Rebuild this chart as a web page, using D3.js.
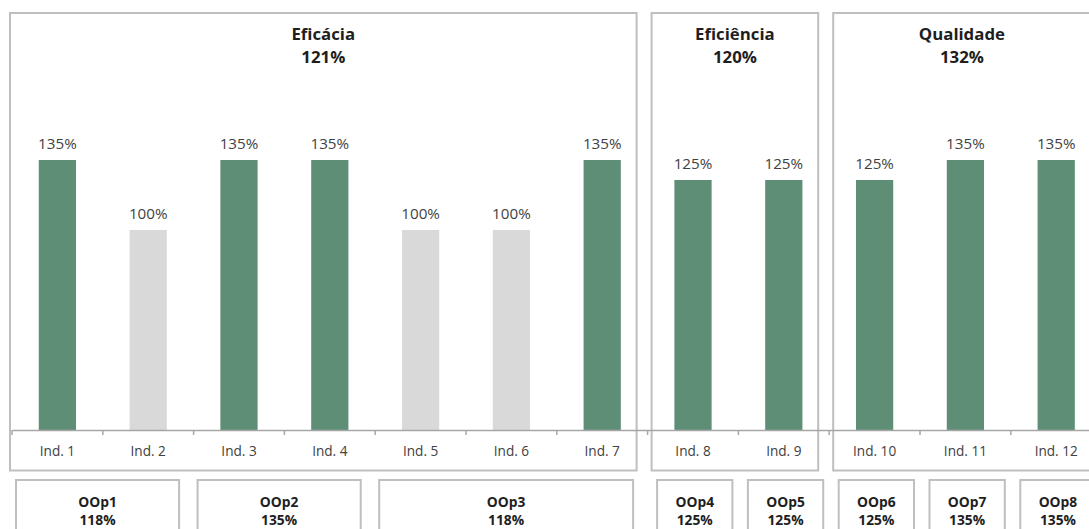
<!DOCTYPE html>
<html>
<head>
<meta charset="utf-8">
<script src="https://cdn.jsdelivr.net/npm/d3@7"></script>
<style>
  html, body { margin: 0; padding: 0; background: #fff; }
  svg { display: block; font-family: "Open Sans", sans-serif; }
</style>
</head>
<body>
<svg id="chart" width="1089" height="529"></svg>
<script>
// Indicators and their results (%)
const categories = ["Ind. 1", "Ind. 2", "Ind. 3", "Ind. 4", "Ind. 5", "Ind. 6",
                    "Ind. 7", "Ind. 8", "Ind. 9", "Ind. 10", "Ind. 11", "Ind. 12"];
const values = [135, 100, 135, 135, 100, 100, 135, 125, 125, 125, 135, 135];

// Dimension groups: name, aggregated result, first/last indicator index
const groupNames = ["Eficácia", "Eficiência", "Qualidade"];
const groupValues = [121, 120, 132];
const groupSpans = [[0, 6], [7, 8], [9, 11]];

// Operational objectives below the axis
const objectiveNames = ["OOp1", "OOp2", "OOp3", "OOp4", "OOp5", "OOp6", "OOp7", "OOp8"];
const objectiveValues = [118, 135, 118, 125, 125, 125, 135, 135];
const objectiveSpans = [[0, 1], [2, 3], [4, 6], [7, 7], [8, 8], [9, 9], [10, 10], [11, 11]];

const svg = d3.select("#chart");
const baseY = 430;

const x = d3.scaleBand()
  .domain(categories)
  .range([12, 12 + 12 * 90.8])
  .paddingInner(0.59)
  .paddingOuter(0.295);

const y = d3.scaleLinear().domain([0, 150]).range([baseY, 130]);

const step = x.step();
const x0 = x.range()[0];
const boundary = i => x0 + i * step;

const pct = v => v + "%";
const boxStroke = "#bfbfbf";

// Dimension frames with titles
const gLeft = d => boundary(d.span[0]) + (d.i === 0 ? -2 : 4);
const gRight = d => boundary(d.span[1] + 1) - 11;

const groups = svg.append("g").selectAll("g")
  .data(groupNames.map((name, i) => ({ name, value: groupValues[i], span: groupSpans[i], i })))
  .join("g");

groups.append("rect")
  .attr("x", gLeft)
  .attr("y", 13)
  .attr("width", d => gRight(d) - gLeft(d))
  .attr("height", 457.5)
  .attr("fill", "none")
  .attr("stroke", boxStroke)
  .attr("stroke-width", 2);

groups.append("text")
  .attr("x", d => (gLeft(d) + gRight(d)) / 2)
  .attr("y", 39.5)
  .attr("text-anchor", "middle")
  .attr("font-weight", 700)
  .attr("font-size", "16.8px")
  .attr("fill", "#1e1e1e")
  .text(d => d.name);

groups.append("text")
  .attr("x", d => (gLeft(d) + gRight(d)) / 2)
  .attr("y", 62.5)
  .attr("text-anchor", "middle")
  .attr("font-weight", 700)
  .attr("font-size", "16.8px")
  .attr("fill", "#1e1e1e")
  .text(d => pct(d.value));

// Bars
const data = categories.map((c, i) => ({ c, v: values[i] }));

svg.append("g").selectAll("rect")
  .data(data)
  .join("rect")
  .attr("x", d => x(d.c))
  .attr("y", d => y(d.v))
  .attr("width", x.bandwidth())
  .attr("height", d => baseY - y(d.v))
  .attr("fill", d => d.v > 100 ? "#5f8e77" : "#d9d9d9");

// Value labels
svg.append("g").selectAll("text")
  .data(data)
  .join("text")
  .attr("x", d => x(d.c) + x.bandwidth() / 2)
  .attr("y", d => y(d.v) - 11)
  .attr("text-anchor", "middle")
  .attr("font-size", "15.2px")
  .attr("fill", "#3f3f3f")
  .text(d => pct(d.v));

// Category axis
const axis = svg.append("g")
  .attr("transform", `translate(0,${baseY})`)
  .call(d3.axisBottom(x).tickSize(0).tickPadding(16));
axis.select(".domain").attr("stroke", "#a6a6a6").attr("stroke-width", 1.5);
axis.selectAll("text")
  .attr("font-family", "Open Sans, sans-serif")
  .attr("font-size", "13.6px")
  .attr("fill", "#404040");

// Tick marks between categories
svg.append("g").selectAll("line")
  .data(d3.range(categories.length + 1))
  .join("line")
  .attr("x1", i => boundary(i))
  .attr("x2", i => boundary(i))
  .attr("y1", baseY)
  .attr("y2", baseY + 5)
  .attr("stroke", "#a6a6a6")
  .attr("stroke-width", 1.5);

// Objective boxes
const objectives = svg.append("g").selectAll("g")
  .data(objectiveNames.map((name, i) => ({ name, value: objectiveValues[i], span: objectiveSpans[i] })))
  .join("g");

const single = d => d.span[0] === d.span[1];
const oLeft = d => boundary(d.span[0]) + (single(d) ? 9.5 : 4);
const oRight = d => boundary(d.span[1] + 1) - (single(d) ? 6 : 14.5);

objectives.append("rect")
  .attr("x", oLeft)
  .attr("y", 480)
  .attr("width", d => oRight(d) - oLeft(d))
  .attr("height", 70)
  .attr("fill", "none")
  .attr("stroke", boxStroke)
  .attr("stroke-width", 2);

objectives.append("text")
  .attr("x", d => (oLeft(d) + oRight(d)) / 2)
  .attr("y", 507)
  .attr("text-anchor", "middle")
  .attr("font-weight", 700)
  .attr("font-size", "13.8px")
  .attr("fill", "#1e1e1e")
  .text(d => d.name);

objectives.append("text")
  .attr("x", d => (oLeft(d) + oRight(d)) / 2)
  .attr("y", 524.5)
  .attr("text-anchor", "middle")
  .attr("font-weight", 700)
  .attr("font-size", "13.8px")
  .attr("fill", "#1e1e1e")
  .text(d => pct(d.value));
</script>
</body>
</html>
